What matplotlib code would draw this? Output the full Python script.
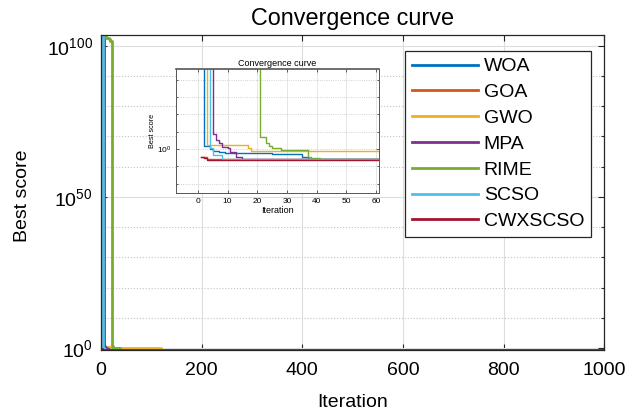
import matplotlib.pyplot as plt
from matplotlib.ticker import NullFormatter

# Convergence curves of 7 optimisers, log y axis, with a zoomed inset

plt.rcParams['font.family'] = ['Liberation Sans', 'DejaVu Sans']
plt.rcParams['mathtext.default'] = 'regular'

names = ['WOA', 'GOA', 'GWO', 'MPA', 'RIME', 'SCSO', 'CWXSCSO']
colors = ['#0072BD', '#D95319', '#EDB120', '#7E2F8E', '#77AC30', '#4DBEEE', '#A2142F']

# iteration where the best score changes, and the new best score
woa_it = [1, 2, 4, 5, 7, 9, 25, 35, 37, 1000]
woa_val = [2e103, 1.48, 1.0, 0.8, 0.65, 0.56, 0.49, 0.33, 0.26, 0.26]

goa_it = [1, 3, 1000]
goa_val = [0.36, 0.26, 0.26]

gwo_it = [1, 3, 17, 18, 120, 1000]
gwo_val = [1e103, 1.7, 1.2, 0.8, 0.26, 0.26]

mpa_it = [1, 5, 6, 7, 8, 10, 11, 13, 15, 1000]
mpa_val = [1e103, 7.9, 3.5, 2.2, 1.4, 1.1, 0.7, 0.36, 0.26, 0.26]

rime_it = [1, 5, 10, 15, 17, 21, 23, 24, 25, 28, 37, 38, 41, 1000]
rime_val = [3e103, 1.5e103, 5e102, 1.5e102, 5e101, 5.1, 2.4, 1.5, 1.15, 0.9, 0.36, 0.3, 0.26, 0.26]

scso_it = [1, 4, 5, 8, 1000]
scso_val = [2e103, 1.2, 0.45, 0.26, 0.26]

cwx_it = [1, 2, 3, 1000]
cwx_val = [0.355, 0.32, 0.25, 0.25]

series = [(woa_it, woa_val), (goa_it, goa_val), (gwo_it, gwo_val), (mpa_it, mpa_val),
          (rime_it, rime_val), (scso_it, scso_val), (cwx_it, cwx_val)]

fig = plt.figure(figsize=(6.28, 4.16), dpi=100)
fig.patch.set_facecolor('white')
ax = fig.add_axes([0.161, 0.159, 0.801, 0.757])

for (it, val), name, c in zip(series, names, colors):
    ax.plot(it, val, drawstyle='steps-post', color=c, lw=2, label=name)

ax.set_yscale('log')
ax.set_xlim(0, 1000)
ax.set_ylim(10 ** -0.6, 10 ** 103.6)
ax.set_xticks([0, 200, 400, 600, 800, 1000])
ax.set_yticks([1e0, 1e50, 1e100])
ax.set_yticklabels(['$10^{0}$', '$10^{50}$', '$10^{100}$'])
ax.set_yticks([10.0 ** k for k in range(10, 100, 10) if k != 50], minor=True)
ax.yaxis.set_minor_formatter(NullFormatter())
ax.tick_params(which='both', direction='in', top=True, right=True, labelsize=14,
               width=0.8, color='#262626')
ax.tick_params(which='major', length=4.5, pad=6)
ax.tick_params(axis='x', which='major', pad=9)
ax.tick_params(which='minor', length=2.5)
ax.grid(which='major', color='#dedede', lw=0.8, ls='-')
ax.grid(which='minor', axis='y', color='#c4c4c4', lw=0.8, ls=':')
for s in ax.spines.values():
    s.set_color('#262626')
    s.set_linewidth(0.9)

ax.set_title('Convergence curve', fontsize=16.8, pad=7)
ax.set_xlabel('Iteration', fontsize=14)
ax.set_ylabel('Best score', fontsize=14)
ax.xaxis.set_label_coords(0.5, -0.14)
ax.yaxis.set_label_coords(-0.14, 0.49)

leg = ax.legend(loc='upper left', bbox_to_anchor=(0.604, 0.949), borderaxespad=0,
                fontsize=14, handlelength=3.4, handletextpad=0.3, labelspacing=0.42,
                borderpad=0.35, fancybox=False, framealpha=1, edgecolor='#262626')
leg.get_frame().set_linewidth(0.9)

# inset
axins = fig.add_axes([0.280, 0.535, 0.324, 0.299])
for (it, val), c in zip(series, colors):
    axins.plot(it, val, drawstyle='steps-post', color=c, lw=1)
axins.set_yscale('log')
axins.set_xlim(-7.4, 61.1)
axins.set_ylim(10 ** -2.56, 10 ** 4.62)
axins.set_xticks([0, 10, 20, 30, 40, 50, 60])
axins.set_yticks([1e0])
axins.set_yticklabels(['$10^{0}$'])
axins.set_yticks([10.0 ** k for k in range(-2, 5) if k != 0], minor=True)
axins.yaxis.set_minor_formatter(NullFormatter())
axins.tick_params(which='both', direction='in', top=True, right=True, labelsize=6,
                  width=0.6, color='#444444', pad=3)
axins.tick_params(which='major', length=2)
axins.tick_params(which='minor', length=1.2)
axins.grid(which='major', axis='x', color='#e2e2e2', lw=0.6, ls='-')
axins.grid(which='both', axis='y', color='#c4c4c4', lw=0.6, ls=':')
for s in axins.spines.values():
    s.set_color('#555555')
    s.set_linewidth(0.7)
axins.spines['top'].set_linewidth(1.2)
axins.set_title('Convergence curve', fontsize=6.5, pad=2)
axins.set_xlabel('Iteration', fontsize=6.5, labelpad=1)
axins.set_ylabel('Best score', fontsize=5.2, labelpad=1)

fig.savefig('out.png', dpi=100)
